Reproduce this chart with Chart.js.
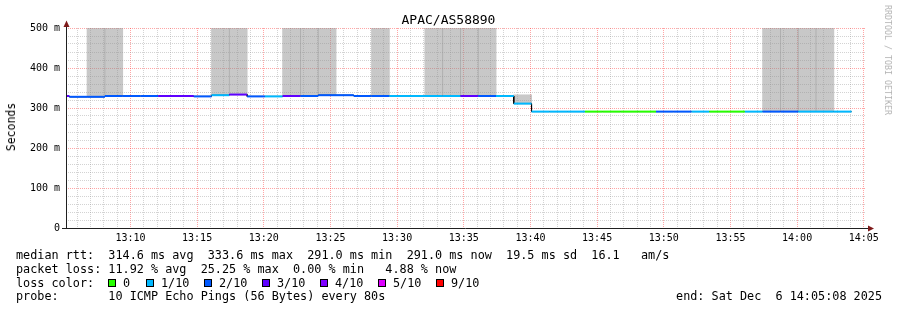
<!DOCTYPE html>
<html>
<head>
<meta charset="utf-8">
<script src="https://cdn.jsdelivr.net/npm/chart.js@4.4.0/dist/chart.umd.min.js"></script>
<style>
html,body{margin:0;padding:0;background:#fff;}
#wrap{position:relative;width:897px;height:310px;overflow:hidden;background:#fff;font-family:"DejaVu Sans Mono",monospace;color:#000;}
#c{position:absolute;left:0;top:0;}
.t{position:absolute;white-space:pre;font-size:11.8px;line-height:14px;}
#title{position:absolute;left:0;width:897px;top:12px;text-align:center;font-size:13px;line-height:16px;white-space:pre;}
#ylab{position:absolute;left:11px;top:127px;font-size:11.5px;line-height:14px;white-space:pre;transform:translate(-50%,-50%) rotate(-90deg);}
#wm{position:absolute;left:888px;top:60px;font-size:8.3px;line-height:10px;color:#b4b4b4;white-space:pre;transform:translate(-50%,-50%) rotate(90deg);}
.sw{position:absolute;width:8px;height:8px;box-sizing:border-box;border:1px solid #000;}
</style>
</head>
<body>
<div id="wrap">
  <canvas id="c" width="897" height="310"></canvas>
  <div id="title"></div>
  <div id="ylab"></div>
  <div id="wm"></div>
  <div id="foot"></div>
</div>
<script>
// ---------------- data ----------------
const chartTitle = 'APAC/AS58890';
const yAxisTitle = 'Seconds';
const watermark = 'RRDTOOL / TOBI OETIKER';

const viewStart = '13:05:10';
const viewEnd = '14:05:10';
const timeLabels = ['13:10','13:15','13:20','13:25','13:30','13:35','13:40','13:45','13:50','13:55','14:00','14:05'];
const yTickValues = [0, 100, 200, 300, 400, 500];
const yTickLabels = ['0', '100 m', '200 m', '300 m', '400 m', '500 m'];

// 80 s RRD steps, first step (partly outside the view) starts 13:04:05
const firstStep = '13:04:05';
const stepSeconds = 80;
// median round-trip time (ms) per step
const median = [330, 328, 328, 330, 330, 330, 330, 330, 329, 332,
                333.6, 329, 329, 330, 330, 332, 332, 330, 330, 330,
                330, 330, 330, 330, 330, 330, 311, 291, 291, 291,
                291, 291, 291, 291, 291, 291, 291, 291, 291, 291,
                291, 291, 291, 291, 291];
// lost pings out of 10 per step
const lossTenths = [3, 2, 2, 2, 2, 2, 3, 3, 2, 1,
                    3, 2, 1, 3, 2, 2, 2, 2, 2, 1,
                    1, 1, 1, 3, 2, 1, 1, 1, 1, 1,
                    0, 0, 0, 0, 2, 2, 1, 0, 0, 1,
                    2, 2, 1, 1, 1];
// smoke (spread of individual pings) per step, ms
const smokeLow  = [null, null, 330, 331, null, null, null, null, null, 333,
                   334, null, null, 331, 331, 333, null, null, 331, null,
                   null, 331, 331, 331, 331, null, 311, null, null, null,
                   null, null, null, null, null, null, null, null, null, null,
                   292, 292, 292, 292, null];
const smokeHigh = [null, null, 500, 500, null, null, null, null, null, 500,
                   500, null, null, 500, 500, 500, null, null, 500, null,
                   null, 500, 500, 500, 500, null, 333, null, null, null,
                   null, null, null, null, null, null, null, null, null, null,
                   500, 500, 500, 500, null];

const lossLegendLabels = ['0', '1/10', '2/10', '3/10', '4/10', '5/10', '9/10'];
const lossLegendColors = ['#26ff00', '#00b8ff', '#0059ff', '#5e00ff', '#7e00ff', '#dd00ff', '#ff0000'];

const statsRtt  = 'median rtt:  314.6 ms avg  333.6 ms max  291.0 ms min  291.0 ms now  19.5 ms sd  16.1   am/s';
const statsLoss = 'packet loss: 11.92 % avg  25.25 % max  0.00 % min   4.88 % now';
const lossCaption = 'loss color:';
const probeText = 'probe:       10 ICMP Echo Pings (56 Bytes) every 80s';
const endText = 'end: Sat Dec  6 14:05:08 2025';

// ---------------- helpers ----------------
const toSec = s => { const p = s.split(':'); return (+p[0] - 13) * 3600 + (+p[1]) * 60 + (+(p[2] || 0)); };
const t0 = toSec(firstStep);
const lossColor = n => lossLegendColors[lossLegendLabels.indexOf(n === 0 ? '0' : n + '/10')];

const stepPairs = [];
median.forEach((v, i) => {
  const a = t0 + i * stepSeconds;
  stepPairs.push({x: a, y: v}, {x: a + stepSeconds, y: v});
});
const smokeBars = [];
median.forEach((v, i) => {
  if (smokeHigh[i] != null) smokeBars.push({x: t0 + i * stepSeconds + stepSeconds / 2, y: [smokeLow[i], smokeHigh[i]]});
});

const xMajor = timeLabels.map(toSec);
const xGrid = [];
for (let s = toSec('13:06'); s <= toSec('14:05'); s += 60) xGrid.push(s);
const yGrid = [];
for (let v = 0; v <= 500; v += 20) yGrid.push(v);

const PLOT_W = 800;   // plot width in px
const stepPx = PLOT_W * stepSeconds / (toSec(viewEnd) - toSec(viewStart));

const MAJOR = 'rgba(255,40,40,0.42)';
const MINOR = 'rgba(150,150,150,0.42)';
const FONT = {family: 'DejaVu Sans Mono', size: 10};

const axesPlugin = {
  id: 'rrdAxes',
  afterDraw(chart) {
    const {ctx, chartArea: a} = chart;
    ctx.save();
    ctx.strokeStyle = '#202020';
    ctx.lineWidth = 1;
    ctx.setLineDash([]);
    ctx.beginPath();
    ctx.moveTo(a.left + 0.5, a.bottom);
    ctx.lineTo(a.left + 0.5, a.top - 3);
    ctx.moveTo(a.left - 4, a.bottom + 0.5);
    ctx.lineTo(a.right + 3, a.bottom + 0.5);
    ctx.stroke();
    ctx.fillStyle = '#7f1a1a';
    ctx.beginPath();
    ctx.moveTo(a.left + 0.5, a.top - 7.5);
    ctx.lineTo(a.left - 2.5, a.top - 1);
    ctx.lineTo(a.left + 3.5, a.top - 1);
    ctx.closePath();
    ctx.fill();
    ctx.beginPath();
    ctx.moveTo(a.right + 8, a.bottom + 0.5);
    ctx.lineTo(a.right + 2, a.bottom - 2.5);
    ctx.lineTo(a.right + 2, a.bottom + 3.5);
    ctx.closePath();
    ctx.fill();
    ctx.restore();
  }
};

new Chart(document.getElementById('c'), {
  type: 'line',
  data: {
    datasets: [
      {
        type: 'bar', data: smokeBars, xAxisID: 'x', yAxisID: 'y',
        backgroundColor: 'rgba(145,145,145,0.5)', borderWidth: 0,
        barThickness: stepPx + 0.2, grouped: false, order: 3, clip: 0
      },
      {
        data: stepPairs, xAxisID: 'x', yAxisID: 'y',
        borderColor: '#000', borderWidth: 1, pointRadius: 0, tension: 0, clip: 0, order: 2
      },
      {
        data: stepPairs, xAxisID: 'x', yAxisID: 'y',
        borderWidth: 2, pointRadius: 0, tension: 0, clip: 0, order: 1,
        borderCapStyle: 'butt', borderColor: '#0059ff',
        segment: {
          borderColor: ctx => ctx.p0DataIndex % 2 === 0 ? lossColor(lossTenths[ctx.p0DataIndex / 2]) : 'rgba(0,0,0,0)'
        }
      }
    ]
  },
  options: {
    responsive: false,
    animation: false,
    devicePixelRatio: 1,
    layout: {padding: {left: 0, top: 28, right: 31, bottom: 0}},
    plugins: {legend: {display: false}, tooltip: {enabled: false}, title: {display: false}},
    scales: {
      x: {
        type: 'linear', position: 'bottom', offset: false,
        min: toSec(viewStart), max: toSec(viewEnd),
        afterBuildTicks: s => { s.ticks = xGrid.map(v => ({value: v})); },
        afterFit: s => { s.height = 82; },
        ticks: {
          autoSkip: false, maxRotation: 0, padding: 4, color: '#000', font: FONT,
          callback: v => { const i = xMajor.indexOf(v); return i < 0 ? '' : timeLabels[i]; }
        },
        grid: {offset: false, drawTicks: false, lineWidth: 1, color: c => (c.tick && xMajor.includes(c.tick.value)) ? MAJOR : MINOR},
        border: {display: false, dash: [1, 1]}
      },
      y: {
        type: 'linear', position: 'left', min: 0, max: 500,
        afterBuildTicks: s => { s.ticks = yGrid.map(v => ({value: v})); },
        afterFit: s => { s.width = 66; },
        ticks: {
          autoSkip: false, padding: 6, color: '#000', font: FONT,
          callback: v => { const i = yTickValues.indexOf(v); return i < 0 ? '' : yTickLabels[i]; }
        },
        grid: {drawTicks: false, lineWidth: 1, color: c => (c.tick && c.tick.value % 100 === 0) ? MAJOR : MINOR},
        border: {display: false, dash: [1, 1]}
      }
    }
  },
  plugins: [axesPlugin]
});

// ---------------- texts ----------------
document.getElementById('title').textContent = chartTitle;
document.getElementById('ylab').textContent = yAxisTitle;
document.getElementById('wm').textContent = watermark;
const foot = document.getElementById('foot');
function addText(txt, left, top, right) {
  const d = document.createElement('div');
  d.className = 't';
  d.textContent = txt;
  if (right != null) d.style.right = right + 'px'; else d.style.left = left + 'px';
  d.style.top = top + 'px';
  foot.appendChild(d);
}
addText(statsRtt, 16, 248);
addText(statsLoss, 16, 261.5);
addText(lossCaption, 16, 275.5);
addText(probeText, 16, 289);
addText(endText, null, 289, 15);
lossLegendLabels.forEach((lab, i) => {
  const left = i === 0 ? 108 : 146 + 58 * (i - 1);
  const sw = document.createElement('div');
  sw.className = 'sw';
  sw.style.left = left + 'px';
  sw.style.top = '279px';
  sw.style.background = lossLegendColors[i];
  foot.appendChild(sw);
  addText(lab, left + 15, 275.5);
});
</script>
</body>
</html>
